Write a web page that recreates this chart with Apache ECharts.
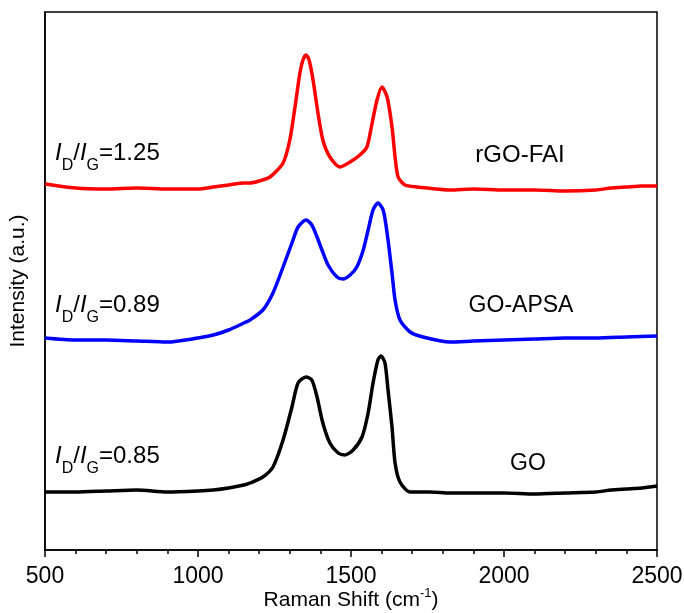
<!DOCTYPE html>
<html>
<head>
<meta charset="utf-8">
<script src="https://cdn.jsdelivr.net/npm/echarts@6/dist/echarts.min.js"></script>
<style>
html,body{margin:0;padding:0;background:#fff;}
#chart{width:684px;height:613px;}
</style>
</head>
<body>
<div id="chart"></div>
<script>
// Raman shift (cm-1) and intensity (a.u., stacked offsets as drawn)
const shiftRed = [500,600,700,800,900,1000,1050,1100,1150,1170,1200,1235,1278,1300,1317,1333,1343,1353,1363,1376,1392,1408,1431,1464,1497,1529,1552,1569,1585,1601,1618,1634,1644,1654,1676,1716,1824,1900,2000,2100,2200,2300,2350,2400,2450,2500];
const intRed   = [366,362,361,362,361,361,363,365,367,367,369,373,387,410,443,477,490,495,490,470,437,410,393,383,388,395,403,427,450,463,453,423,393,373,365,363,360,361,360,360,359,360,362,363,364,364];

const shiftBlue = [500,600,700,800,900,1000,1050,1100,1150,1170,1212,1245,1278,1307,1327,1353,1372,1389,1405,1425,1454,1474,1497,1519,1540,1556,1572,1588,1605,1618,1634,1644,1660,1693,1735,1824,1900,2000,2100,2200,2300,2400,2500];
const intBlue   = [212,210,210,209,208,212,215,220,227,230,240,257,283,307,323,330,325,313,300,285,273,271,275,283,300,320,340,347,340,317,277,250,230,218,213,208,209,210,211,212,212,213,214];

const shiftBlack = [500,600,700,800,900,1000,1050,1100,1150,1170,1212,1245,1278,1307,1327,1353,1372,1389,1408,1431,1458,1480,1507,1536,1556,1572,1588,1598,1611,1621,1634,1644,1660,1693,1758,1824,1900,2000,2100,2200,2300,2350,2400,2450,2500];
const intBlack   = [58,58,59,60,58,59,60,62,65,67,73,83,110,143,167,173,170,153,127,107,97,95,100,113,137,167,190,194,187,160,123,87,68,58,58,57,57,57,56,57,58,60,61,62,64];

const seriesNames = ['rGO-FAI','GO-APSA','GO'];
const ratioLabels = ['1.25','0.89','0.85'];
const xTicks = [500,1000,1500,2000,2500];

const pair = (xs, ys) => xs.map((x, i) => [x, ys[i]]);

const chart = echarts.init(document.getElementById('chart'));
const font = 'Liberation Sans, Arial, sans-serif';

function ratioText(v){ return '{i|I}{s|D}{n|/}{i|I}{s|G}{n|=' + v + '}'; }
const ratioRich = {
  i:{fontSize:24,fontStyle:'italic',fontFamily:font,color:'#000',lineHeight:42,verticalAlign:'middle'},
  n:{fontSize:24,fontFamily:font,color:'#000',lineHeight:42,verticalAlign:'middle'},
  s:{fontSize:16,fontFamily:font,color:'#000',lineHeight:14,verticalAlign:'bottom'}
};

chart.setOption({
  animation:false,
  backgroundColor:'#fff',
  grid:{left:45,right:27,top:12,bottom:63,show:true,borderColor:'#000',borderWidth:1.5,backgroundColor:'transparent',outerBoundsMode:'none',containLabel:false},
  xAxis:{
    type:'value',min:xTicks[0],max:xTicks[xTicks.length-1],interval:500,
    name:'{n|Raman Shift (cm}{sup|-1}{n|)}',nameLocation:'middle',nameGap:37,nameMoveOverlap:false,
    nameTextStyle:{rich:{
      n:{fontSize:21,fontFamily:font,color:'#000',lineHeight:26,verticalAlign:'middle'},
      sup:{fontSize:13,fontFamily:font,color:'#000',lineHeight:13,verticalAlign:'top'}
    }},
    axisLine:{show:true,lineStyle:{color:'#000',width:1.5}},
    axisTick:{show:true,inside:false,length:7,lineStyle:{color:'#000',width:1.5}},
    minorTick:{show:true,splitNumber:5,length:4,lineStyle:{color:'#000',width:1.5}},
    splitLine:{show:false},
    axisLabel:{fontSize:23,fontFamily:font,color:'#000',margin:15,formatter:v=>String(v)}
  },
  yAxis:{
    type:'value',min:0,max:538,
    name:'Intensity (a.u.)',nameLocation:'middle',nameGap:16,nameMoveOverlap:false,
    nameTextStyle:{fontSize:21,fontFamily:font,color:'#000'},
    axisLine:{show:true,lineStyle:{color:'#000',width:1.5}},
    axisTick:{show:false},axisLabel:{show:false},splitLine:{show:false}
  },
  series:[
    {name:seriesNames[0],type:'line',data:pair(shiftRed,intRed),showSymbol:false,smooth:0.25,lineStyle:{color:'#ff0000',width:3.5},itemStyle:{color:'#ff0000'}},
    {name:seriesNames[1],type:'line',data:pair(shiftBlue,intBlue),showSymbol:false,smooth:0.25,lineStyle:{color:'#0000ff',width:3.5},itemStyle:{color:'#0000ff'}},
    {name:seriesNames[2],type:'line',data:pair(shiftBlack,intBlack),showSymbol:false,smooth:0.25,lineStyle:{color:'#000000',width:3.5},itemStyle:{color:'#000'}}
  ],
  graphic:[
    {type:'text',left:55,top:141,style:{text:ratioText(ratioLabels[0]),rich:ratioRich}},
    {type:'text',left:55,top:293,style:{text:ratioText(ratioLabels[1]),rich:ratioRich}},
    {type:'text',left:55,top:444,style:{text:ratioText(ratioLabels[2]),rich:ratioRich}},
    {type:'text',x:520,y:155,style:{text:seriesNames[0],fontSize:24,fontFamily:font,fill:'#000',align:'center',verticalAlign:'middle'}},
    {type:'text',x:521,y:306,style:{text:seriesNames[1],fontSize:23,fontFamily:font,fill:'#000',align:'center',verticalAlign:'middle'}},
    {type:'text',x:528,y:464,style:{text:seriesNames[2],fontSize:23,fontFamily:font,fill:'#000',align:'center',verticalAlign:'middle'}}
  ]
});
</script>
</body>
</html>
